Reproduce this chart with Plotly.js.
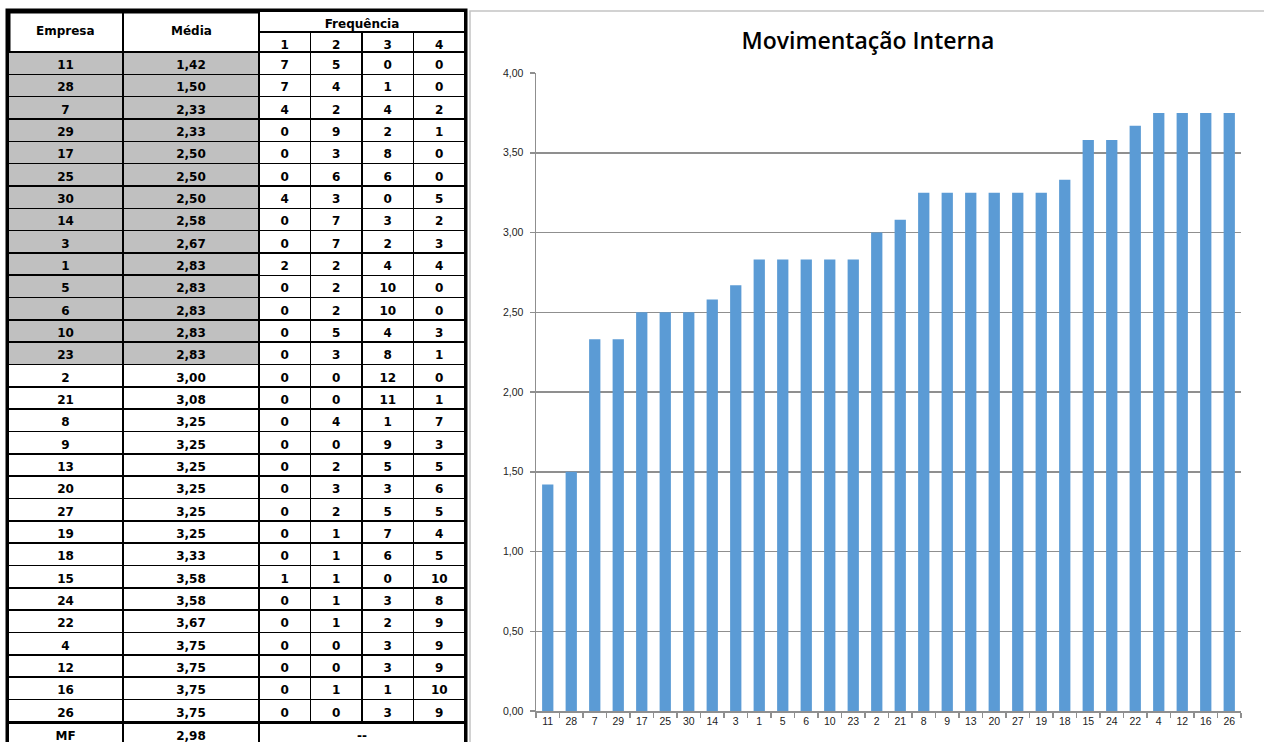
<!DOCTYPE html>
<html>
<head>
<meta charset="utf-8">
<script src="https://cdn.plot.ly/plotly-3.0.1.min.js"></script>
<style>
  html, body { margin: 0; padding: 0; overflow: hidden; background: #fff; }
  #chart { width: 1264px; height: 760px; }
</style>
</head>
<body>
<div id="chart"></div>
<script>
// Companies, ordered by their mean score
const empresas = [11, 28, 7, 29, 17, 25, 30, 14, 3, 1, 5, 6, 10, 23, 2, 21, 8, 9, 13, 20, 27, 19, 18, 15, 24, 22, 4, 12, 16, 26];
const medias = [1.42, 1.50, 2.33, 2.33, 2.50, 2.50, 2.50, 2.58, 2.67, 2.83, 2.83, 2.83, 2.83, 2.83, 3.00, 3.08, 3.25, 3.25, 3.25, 3.25, 3.25, 3.25, 3.33, 3.58, 3.58, 3.67, 3.75, 3.75, 3.75, 3.75];
// How many answers fell on each point of the 1-4 scale
const freq1 = [7, 7, 4, 0, 0, 0, 4, 0, 0, 2, 0, 0, 0, 0, 0, 0, 0, 0, 0, 0, 0, 0, 0, 1, 0, 0, 0, 0, 0, 0];
const freq2 = [5, 4, 2, 9, 3, 6, 3, 7, 7, 2, 2, 2, 5, 3, 0, 0, 4, 0, 2, 3, 2, 1, 1, 1, 1, 1, 0, 0, 1, 0];
const freq3 = [0, 1, 4, 2, 8, 6, 0, 3, 2, 4, 10, 10, 4, 8, 12, 11, 1, 9, 5, 3, 5, 7, 6, 0, 3, 2, 3, 3, 1, 3];
const freq4 = [0, 0, 2, 1, 0, 0, 5, 2, 3, 4, 0, 0, 3, 1, 0, 1, 7, 3, 5, 6, 5, 4, 5, 10, 8, 9, 9, 9, 10, 9];
const escala = ['1', '2', '3', '4'];
const colunas = ['Empresa', 'Média', 'Frequência'];
const mediaGeral = 2.98;   // MF
const titulo = 'Movimentação Interna';

const W = 1264, H = 760;
const px = x => x / W;
const py = y => 1 - y / H;
const fmt = v => v.toFixed(2).replace('.', ',');

const tableFont = { family: 'DejaVu Sans, Verdana, sans-serif', size: 12, color: '#000', weight: 700 };
const rowH = 22.33;
const lineStyle = { color: '#000', width: 1.6 };

// rows under the overall mean are shaded
const shade = medias.map(m => (m < mediaGeral ? '#c0c0c0' : '#ffffff'));

// left block: the two-row header cell is left see-through so its label,
// drawn as an annotation, sits centred across the full header height
const tabEmpresaMedia = {
  type: 'table',
  domain: { x: [px(8), px(259)], y: [0, py(11)] },
  columnwidth: [115, 136],
  header: {
    values: ['', ''],
    height: 41,
    fill: { color: 'rgba(0,0,0,0)' },
    line: lineStyle,
    font: tableFont
  },
  cells: {
    values: [empresas.map(String), medias.map(fmt)],
    height: rowH,
    align: 'center',
    fill: { color: [shade, shade] },
    line: lineStyle,
    font: tableFont
  }
};

const tabFreqTitulo = {
  type: 'table',
  domain: { x: [px(259), px(465)], y: [0, py(11)] },
  header: {
    values: [colunas[2]],
    height: 21,
    align: 'center',
    fill: { color: '#fff' },
    line: lineStyle,
    font: tableFont
  },
  cells: { values: [[]], height: rowH, line: lineStyle }
};

const tabFreq = {
  type: 'table',
  domain: { x: [px(259), px(465)], y: [0, py(32)] },
  header: {
    values: escala,
    height: 20,
    align: 'center',
    fill: { color: '#fff' },
    line: lineStyle,
    font: tableFont
  },
  cells: {
    values: [freq1, freq2, freq3, freq4].map(c => c.map(String)),
    height: rowH,
    align: 'center',
    fill: { color: '#fff' },
    line: lineStyle,
    font: tableFont
  }
};

const tabRodape = {
  type: 'table',
  domain: { x: [px(8), px(465)], y: [0, py(723)] },
  columnwidth: [115, 136, 206],
  header: {
    values: ['MF', fmt(mediaGeral), '--'],
    height: 22,
    align: 'center',
    fill: { color: '#fff' },
    line: lineStyle,
    font: tableFont
  },
  cells: { values: [[], [], []], height: rowH, line: lineStyle }
};

const barras = {
  type: 'bar',
  x: empresas.map(String),
  y: medias,
  xaxis: 'x',
  yaxis: 'y',
  marker: { color: '#5b9bd5' },
  hoverinfo: 'x+y'
};

const axisGray = '#8f8f8f';
const tickFont = { family: 'Liberation Sans Narrow, Liberation Sans, sans-serif', size: 10.5, color: '#222' };

const layout = {
  width: W,
  height: H,
  margin: { l: 0, r: 0, t: 0, b: 0 },
  paper_bgcolor: '#fff',
  plot_bgcolor: '#fff',
  separators: ',.',
  showlegend: false,
  bargap: 0.52,
  title: {
    text: titulo,
    xref: 'paper', yref: 'paper',
    x: px(868), y: py(41),
    xanchor: 'center', yanchor: 'middle',
    font: { family: 'Open Sans, sans-serif', size: 23, color: '#000', weight: 600 }
  },
  annotations: [
    { text: colunas[0], xref: 'paper', yref: 'paper', x: px(65.5), y: py(31),
      xanchor: 'center', yanchor: 'middle', showarrow: false, font: tableFont },
    { text: colunas[1], xref: 'paper', yref: 'paper', x: px(191), y: py(31),
      xanchor: 'center', yanchor: 'middle', showarrow: false, font: tableFont }
  ],
  xaxis: {
    domain: [px(536), px(1241)],
    type: 'category',
    showline: true,
    linecolor: axisGray,
    linewidth: 1.5,
    ticks: 'outside',
    tickson: 'boundaries',
    ticklen: 5,
    tickcolor: axisGray,
    tickwidth: 1.5,
    tickfont: tickFont,
    showgrid: false,
    fixedrange: true
  },
  yaxis: {
    domain: [py(711), py(73)],
    range: [0, 4],
    dtick: 0.5,
    tickformat: '.2f',
    showline: true,
    linecolor: axisGray,
    linewidth: 1.5,
    ticks: 'outside',
    ticklen: 5,
    tickcolor: axisGray,
    tickwidth: 1.5,
    ticklabelstandoff: 4,
    showgrid: true,
    gridcolor: axisGray,
    gridwidth: 1.5,
    zeroline: false,
    tickfont: tickFont,
    fixedrange: true
  },
  shapes: [
    // chart frame
    { type: 'rect', xref: 'paper', yref: 'paper', layer: 'below',
      x0: px(470), x1: px(1280), y0: -0.1, y1: py(11),
      line: { color: '#c4c4c4', width: 1.5 }, fillcolor: 'rgba(0,0,0,0)' },
    // heavy outline round the table
    { type: 'rect', xref: 'paper', yref: 'paper', layer: 'below',
      x0: px(8), x1: px(465), y0: -0.1, y1: py(11),
      line: { color: '#000', width: 5 }, fillcolor: 'rgba(0,0,0,0)' }
  ]
};

Plotly.newPlot('chart', [tabEmpresaMedia, tabFreqTitulo, tabFreq, tabRodape, barras], layout, { displayModeBar: false, staticPlot: true });
</script>
</body>
</html>
